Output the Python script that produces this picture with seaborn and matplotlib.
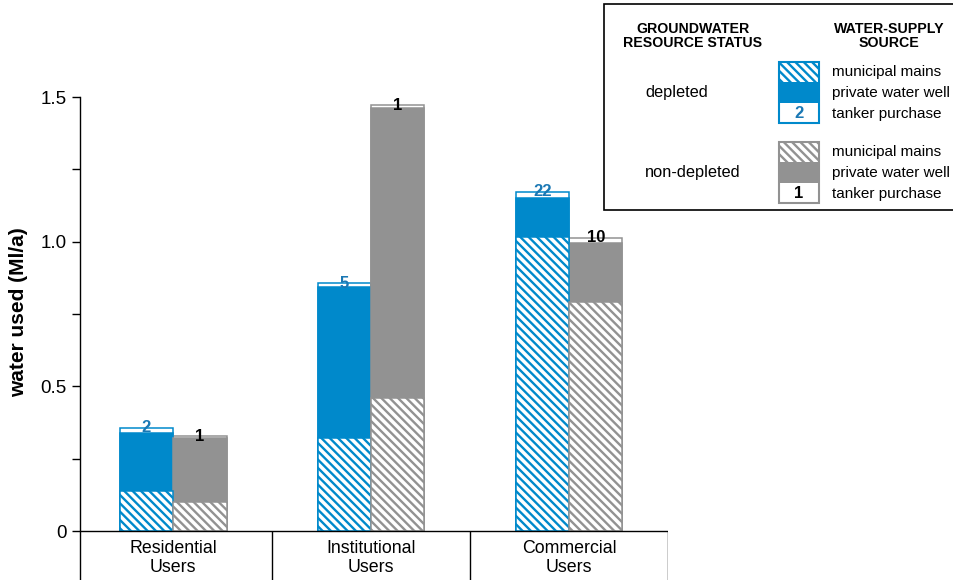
import matplotlib.pyplot as plt
import matplotlib.patches as mpatches
import seaborn as sns
import pandas as pd

# values (Ml/a)
users = ["Residential\nUsers", "Institutional\nUsers", "Commercial\nUsers"]
statuses = ["depleted", "non-depleted"]

municipal_depleted = [0.138, 0.32, 1.016]
private_depleted = [0.201, 0.523, 0.135]
tanker_depleted = [0.017, 0.014, 0.021]
count_depleted = [2, 5, 22]

municipal_nondepleted = [0.10, 0.46, 0.79]
private_nondepleted = [0.22, 1.002, 0.205]
tanker_nondepleted = [0.008, 0.010, 0.018]
count_nondepleted = [1, 1, 10]

blue = "#0089cb"
blue_text = "#1a78b4"
grey = "#929292"
colors = {"depleted": blue, "non-depleted": grey}
text_colors = {"depleted": blue_text, "non-depleted": "black"}

df = pd.DataFrame({
    "user": users * 2,
    "status": ["depleted"] * 3 + ["non-depleted"] * 3,
    "municipal": municipal_depleted + municipal_nondepleted,
    "private": private_depleted + private_nondepleted,
    "tanker": tanker_depleted + tanker_nondepleted,
    "count": count_depleted + count_nondepleted,
})
df["to_private"] = df["municipal"] + df["private"]
df["total"] = df["to_private"] + df["tanker"]

plt.rcParams["font.family"] = ["Liberation Sans", "DejaVu Sans"]
plt.rcParams["hatch.linewidth"] = 1.7
HATCH = "\\" * 4

fig = plt.figure(figsize=(9.54, 5.8), dpi=100)
ax = fig.add_axes([80 / 954, 0, 588 / 954, 540 / 580])

# stacked bars drawn as overlaid layers: total, then private, then municipal
layers = [("total", "white", ""), ("to_private", None, ""), ("municipal", "white", HATCH)]
for col, face, hatch in layers:
    n = len(ax.containers)
    sns.barplot(data=df, x="user", y=col, hue="status", hue_order=statuses,
                order=users, palette=colors, width=0.54, ax=ax, legend=False,
                errorbar=None)
    for cont, st in zip(ax.containers[n:], statuses):
        for bar in cont:
            bar.set_edgecolor(colors[st])
            bar.set_linewidth(1.1)
            bar.set_facecolor(face if face else colors[st])
            if hatch:
                bar.set_hatch(hatch)

# tanker purchase counts on top of each bar
for cont, st in zip(ax.containers[:2], statuses):
    sub = df[df["status"] == st]
    for bar, n in zip(cont, sub["count"]):
        ax.text(bar.get_x() + bar.get_width() / 2, bar.get_height(), str(n),
                ha="center", va="center", fontsize=12, fontweight="bold",
                color=text_colors[st], zorder=5)

y0 = -49 / 289.33
ax.set_xlim(-0.47, 2.5)
ax.set_ylim(y0, 491 / 289.33)
ax.set_xticks([])
ax.set_xlabel("")
ax.set_ylabel("")
for s in ["top", "right", "bottom"]:
    ax.spines[s].set_visible(False)
ax.spines["left"].set_bounds(y0, 1.5)
ax.spines["left"].set_linewidth(1)
ax.axhline(0, color="black", lw=1)
ax.vlines([0.5, 1.5, 2.5], y0, 0, color="black", lw=1)
ax.set_yticks([0, 0.5, 1.0, 1.5])
ax.set_yticklabels(["0", "0.5", "1.0", "1.5"], fontsize=13.5)
ax.set_yticks([0.25, 0.75, 1.25], minor=True)
ax.tick_params(axis="y", which="both", length=6, width=1)
for i, u in enumerate(users):
    ax.text(i, -0.031, u, ha="center", va="top", fontsize=12.8, linespacing=1.15)

fig.text(19 / 954, 1 - 312 / 580, "water used (Ml/a)", rotation=90,
         ha="center", va="center", fontsize=15, fontweight="bold")

# legend box in pixel coordinates
lax = fig.add_axes([0, 0, 1, 1], zorder=10)
lax.set_xlim(0, 954)
lax.set_ylim(580, 0)
lax.axis("off")
lax.patch.set_alpha(0)
lax.add_patch(mpatches.Rectangle((604, 4), 360, 206, facecolor="white",
                                 edgecolor="black", lw=1.2))
lax.text(693, 36, "GROUNDWATER\nRESOURCE STATUS", ha="center", va="center",
         fontsize=10.2, fontweight="bold", linespacing=1.05)
lax.text(889, 36, "WATER-SUPPLY\nSOURCE", ha="center", va="center",
         fontsize=10.2, fontweight="bold", linespacing=1.05)
src_labels = ["municipal mains", "private water well", "tanker purchase"]
for st, top, n in [("depleted", 62, count_depleted[0]),
                   ("non-depleted", 142, count_nondepleted[0])]:
    c = colors[st]
    lax.add_patch(mpatches.Rectangle((779, top), 40, 20, facecolor="white",
                                     edgecolor=c, hatch=HATCH, lw=0))
    lax.add_patch(mpatches.Rectangle((779, top + 20), 40, 21, facecolor=c, lw=0))
    lax.add_patch(mpatches.Rectangle((779, top), 40, 61, facecolor="none",
                                     edgecolor=c, lw=1.5))
    lax.text(799, top + 51, str(n), ha="center", va="center", fontsize=12,
             fontweight="bold", color=text_colors[st])
    lax.text(645, top + 31, st, ha="left", va="center", fontsize=11.8)
    for k, s in enumerate(src_labels):
        lax.text(832, top + 10 + 21 * k, s, ha="left", va="center", fontsize=11)

fig.savefig("out.png", dpi=100)
